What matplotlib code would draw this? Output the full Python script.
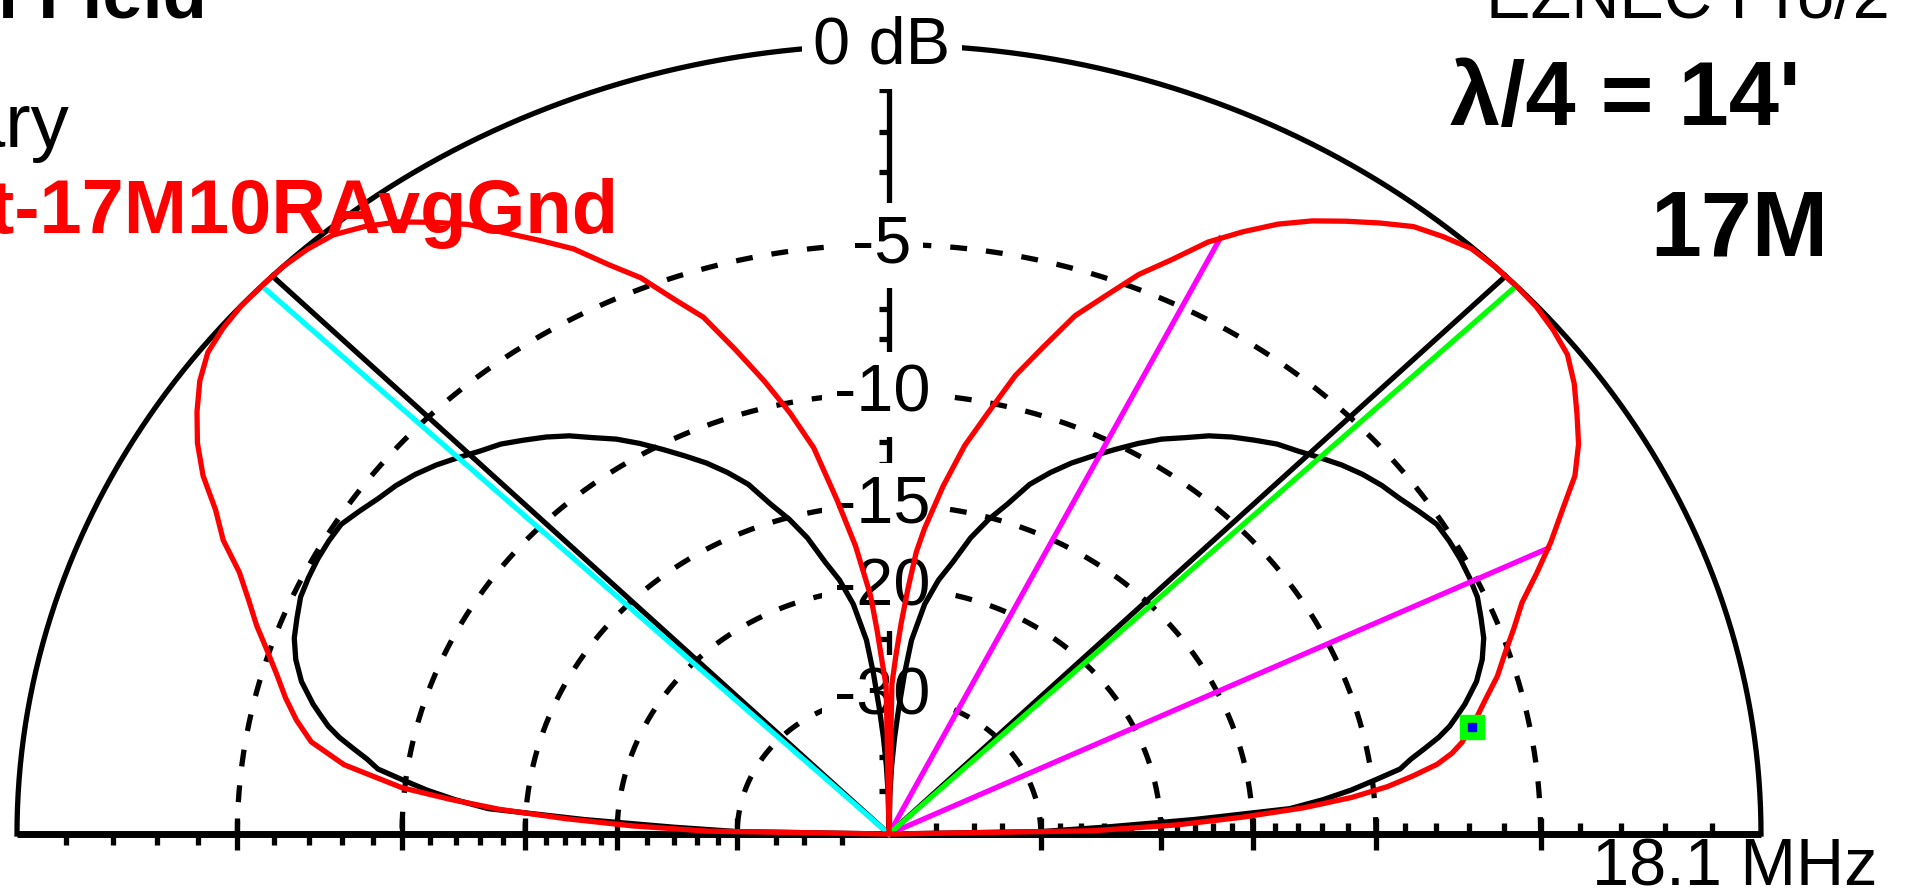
import numpy as np
import matplotlib
matplotlib.use("Agg")
import matplotlib.pyplot as plt

W, H = 1909, 891
CX, CY = 889, 834      # pattern centre, pixels from top-left
RX, RY = 872, 789      # 0 dB radius (horizontal, vertical)
LW = 3.8

# elevation angle (deg) / gain (dB) of the red trace
red_elev = [0, 1, 2, 3, 4, 5, 6, 7, 8, 9, 10, 12, 14, 16, 18, 20, 22, 24, 26, 28,
            30, 32, 34, 36, 38, 40, 42, 44, 46, 48, 50, 52, 54, 56, 58, 60, 62, 64,
            66, 68, 70, 72, 74, 76, 78, 80, 82, 84, 85, 86, 87, 88, 89, 90,
            91, 92, 93, 94, 96, 98, 100, 102, 104, 106, 108, 110, 112, 114, 116,
            118, 120, 122, 124, 126, 128, 130, 132, 134, 136, 138, 140, 142, 144,
            146, 148, 150, 152, 154, 156, 158, 160, 162, 164, 166, 168, 170, 172,
            174, 175, 176, 177, 178, 179, 180]
red_db = [-100, -25, -19, -15.5, -12.7, -10.8, -9.5, -8.6, -7.8, -7.3, -6.95, -6.45,
          -6.0, -5.5, -5.1, -4.65, -4.2, -3.55, -2.9, -2.3, -1.65, -1.2, -0.85, -0.5,
          -0.22, -0.1, -0.02, 0.0, 0.0, -0.03, -0.2, -0.4, -0.75, -1.12, -1.5, -1.95,
          -2.5, -3.1, -3.9, -4.6, -5.5, -6.35, -7.6, -8.8, -10.4, -11.9, -13.9, -16.2,
          -17.6, -20.0, -22.6, -25.5, -28.5, -100,
          -28.7, -26.3, -23.3, -20.5, -17.2, -14.6, -12.0, -10.4, -9.0, -7.7, -6.4,
          -5.6, -4.7, -4.05, -3.3, -2.75, -2.2, -1.6, -1.15, -0.72, -0.4, -0.15,
          -0.05, 0.0, 0.0, 0.0, -0.05, -0.15, -0.4, -0.75, -1.15, -1.65, -2.3, -2.8,
          -3.5, -4.0, -4.45, -4.95, -5.4, -5.8, -6.25, -6.8, -7.9, -9.9, -11.7,
          -13.8, -17.0, -21.0, -27.0, -100]

# elevation angle (deg) / gain (dB) of the black trace
black_elev = [0, 1, 2, 3, 4, 5, 6, 7, 8, 9, 10, 11, 12, 13, 14, 16, 18, 20, 22, 24,
              26, 28, 30, 32, 34, 36, 38, 40, 42, 44, 46, 48, 50, 52, 54, 56, 58, 60,
              62, 64, 66, 68, 70, 72, 74, 76, 78, 80, 82, 84, 85, 86, 87, 88, 89, 90,
              91, 92, 93, 94, 95, 96, 98, 100, 102, 104, 106, 108, 110, 112, 114,
              116, 118, 120, 122, 124, 126, 128, 130, 132, 134, 136, 138, 140, 142,
              144, 146, 148, 150, 152, 154, 156, 158, 160, 162, 164, 166, 167, 168,
              169, 170, 171, 172, 173, 174, 175, 176, 177, 178, 179, 180]
black_db = [-100, -30, -24, -18, -13.3, -11.9, -10.8, -9.9, -9.0, -8.6, -8.1, -7.6,
            -7.2, -6.9, -6.6, -6.1, -5.75, -5.5, -5.35, -5.2, -5.15, -5.12, -5.12,
            -5.15, -5.35, -5.55, -5.7, -5.9, -6.15, -6.45, -6.75, -7.0, -7.35, -7.7,
            -8.1, -8.6, -9.05, -9.6, -10.2, -10.8, -11.4, -12.1, -12.9, -14.1, -15.1,
            -16.3, -17.9, -19.2, -21.0, -24.0, -27.3, -31.5, -36.0, -42.0, -52.0, -100,
            -52.0, -42.0, -36.0, -31.5, -27.3, -24.0, -21.0, -19.2, -17.9, -16.3,
            -15.1, -14.1, -12.9, -12.1, -11.4, -10.8, -10.2, -9.6, -9.05, -8.6, -8.1,
            -7.7, -7.35, -7.0, -6.75, -6.45, -6.15, -5.9, -5.7, -5.55, -5.35, -5.15,
            -5.12, -5.12, -5.15, -5.2, -5.35, -5.5, -5.75, -6.1, -6.6, -6.9, -7.2,
            -7.6, -8.1, -8.6, -9.0, -9.9, -10.8, -11.9, -13.3, -18, -24, -30, -100]

ring_db = [-5, -10, -15, -20, -30]
ring_labels = ["-5", "-10", "-15", "-20", "-30"]
minor_db = [-1, -2, -3, -4, -6, -7, -8, -9, -11, -12, -13, -14, -16, -17, -18, -19,
            -22, -24, -26, -28, -35, -40, -50]

cursor_elev = 44.0       # max-gain cursor (green right, cyan left)
ref_elev = 45.0          # black reference radials
bw_elev = [25.6, 63.3]   # -3 dB beamwidth points
marker_elev = 11.5


def arrl(db):
    # ARRL log scale: radius shrinks by 0.89 for every 2 dB down
    return 0.89 ** (-np.asarray(db, dtype=float) / 2.0)


def polar(elev, r):
    t = np.radians(elev)
    return r * np.cos(t), r * np.sin(t)


def fpx(x, y):
    return x / W, 1 - y / H


fig = plt.figure(figsize=(W / 100, H / 100), dpi=100)
ax = fig.add_axes([0, 0, 1, 1])
ax.set_xlim(-CX / RX, (W - CX) / RX)
ax.set_ylim(-(H - CY) / RY, CY / RY)
ax.axis("off")

# grid: outer 0 dB circle, dashed rings, axes, dB ticks
arc = np.linspace(0, 180, 721)
ax.plot(*polar(arc, 1.0), color="black", lw=LW, zorder=1)
for db in ring_db:
    ax.plot(*polar(arc, arrl(db)), color="black", lw=LW, ls=(0, (3.2, 3.6)), zorder=1)
ax.plot([-1, 1], [0, 0], color="black", lw=5, zorder=1, solid_capstyle="butt")
ax.plot([0, 0], [0, 1], color="black", lw=LW, zorder=1)

ty, tx = 11 / RY, 10 / RX
for db in minor_db:
    r = arrl(db)
    ax.plot([-r, -r], [0, -ty], color="black", lw=LW, zorder=1, solid_capstyle="butt")
    ax.plot([r, r], [0, ty], color="black", lw=LW, zorder=1, solid_capstyle="butt")
    ax.plot([-tx, 0], [r, r], color="black", lw=LW, zorder=1, solid_capstyle="butt")
for db in ring_db:
    r = arrl(db)
    for s in (-1, 1):
        ax.plot([s * r, s * r], [-16 / RY, 16 / RY], color="black", lw=LW, zorder=1,
                solid_capstyle="butt")

# reference radials
for e in (ref_elev, 180 - ref_elev):
    ax.plot(*polar(np.array([e, e]), np.array([0, 1.0])), color="black", lw=LW, zorder=2)

# dB labels on the vertical axis
box = dict(facecolor="white", edgecolor="none", pad=8)
lab_x = (882 - CX) / RX
for db, lab in zip(ring_db, ring_labels):
    ax.text(lab_x, arrl(db) - 18 / RY, lab, ha="center", va="baseline",
            fontsize=48, family="Liberation Sans", bbox=box, zorder=3)
ax.text(lab_x, (CY - 64) / RY, "0 dB", ha="center", va="baseline",
        fontsize=48, family="Liberation Sans", bbox=box, zorder=3)

# patterns
red_r = arrl(red_db)
black_r = arrl(black_db)
ax.plot(*polar(np.array(black_elev), black_r), color="black", lw=LW, zorder=4)

for e in bw_elev:
    r_end = np.interp(e, red_elev, red_r)
    ax.plot(*polar(np.array([e, e]), np.array([0, r_end])), color="#ff00ff", lw=LW, zorder=5)

r_cur = np.interp(cursor_elev, red_elev, red_r)
ax.plot(*polar(np.array([cursor_elev] * 2), np.array([0, r_cur])),
        color="#00ff00", lw=LW, zorder=6)
r_cur_l = np.interp(180 - cursor_elev, red_elev, red_r)
ax.plot(*polar(np.array([180 - cursor_elev] * 2), np.array([0, r_cur_l])),
        color="#00ffff", lw=LW, zorder=6)

ax.plot(*polar(np.array(red_elev), red_r), color="#ff0000", lw=LW, zorder=7)

mx, my = polar(marker_elev, np.interp(marker_elev, red_elev, red_r))
ax.plot(mx, my, marker="s", ms=17, mfc="#00ff00", mec="#00ff00", zorder=8)
ax.plot(mx, my, marker="s", ms=6, mfc="#0000ff", mec="#0000ff", zorder=9)

# header and legend text
fig.text(*fpx(207, 18), "Total Field", ha="right", va="baseline", fontsize=52,
         fontweight="bold", family="Liberation Sans")
fig.text(*fpx(1486, 18), "EZNEC Pro/2", ha="left", va="baseline", fontsize=48,
         family="Liberation Sans")
fig.text(*fpx(70, 147), "Primary", ha="right", va="baseline", fontsize=55,
         family="Liberation Sans")
fig.text(*fpx(618, 233), "Vert-17M10RAvgGnd", ha="right", va="baseline", fontsize=54.5,
         fontweight="bold", color="#ff0000", family="Liberation Sans")
fig.text(*fpx(1450, 125), "\u03bb/4 = 14'", ha="left", va="baseline", fontsize=65,
         fontweight="bold", family="Liberation Sans")
fig.text(*fpx(1650, 256), "17M", ha="left", va="baseline", fontsize=66,
         fontweight="bold", family="Liberation Sans")
fig.text(*fpx(1592, 886), "18.1 MHz", ha="left", va="baseline", fontsize=48,
         family="Liberation Sans")

fig.savefig("out.png", dpi=100, facecolor="white")
